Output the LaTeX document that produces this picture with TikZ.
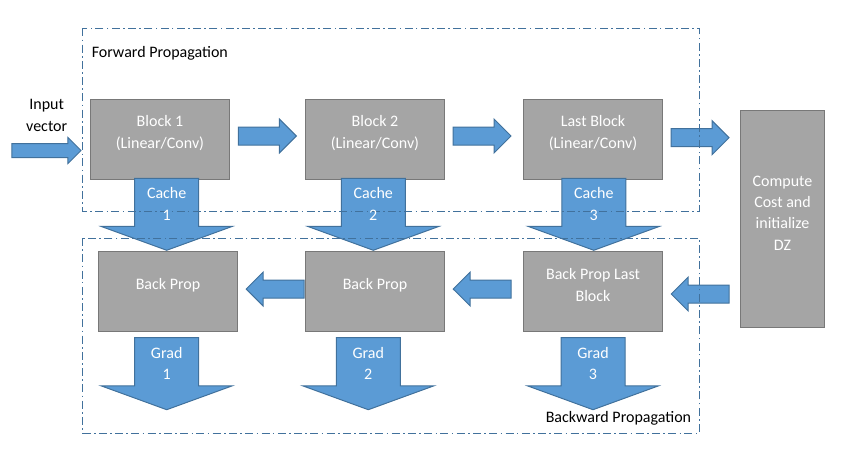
\documentclass[tikz,border=0pt]{standalone}
\usepackage{fontspec}
\setmainfont{Carlito}
\usetikzlibrary{shapes.arrows}
\definecolor{boxgray}{HTML}{A5A5A5}
\definecolor{boxline}{HTML}{787878}
\definecolor{arrowblue}{HTML}{5B9BD5}
\definecolor{arrowline}{HTML}{41719C}
\definecolor{frameblue}{HTML}{41719C}

\begin{document}
\begin{tikzpicture}[x=0.75pt, y=-0.75pt, font=\fontsize{12pt}{16pt}\selectfont]
    % Define styles for blocks, fat arrows and frames
    \tikzstyle{block}=[rectangle, draw=boxline, fill=boxgray, line width=0.75pt, minimum width=104.25pt, minimum height=60pt, inner sep=0pt]
    \tikzstyle{block text}=[text=white, align=center, inner sep=0pt]
    \tikzstyle{plain text}=[text=black, align=center, inner sep=0pt]
    \tikzstyle{fat arrow}=[single arrow, draw=arrowline, fill=arrowblue, line width=0.75pt, inner sep=0pt]
    \tikzstyle{fat right}=[fat arrow, inner ysep=6.375pt, minimum height=43.5pt, single arrow head extend=6pt]
    \tikzstyle{fat left}=[fat right, shape border rotate=180]
    \tikzstyle{fat down}=[fat arrow, shape border rotate=270, inner xsep=23.625pt, minimum height=54pt, single arrow head extend=25.125pt, single arrow tip angle=140]
    \tikzstyle{frame}=[draw=frameblue, line width=0.75pt, dash pattern=on 6pt off 2.5pt on 1.2pt off 2.5pt]

    \useasboundingbox (0,0) rectangle (847,475);

    % Forward blocks
    \node[block] (B-1) at (160,139.3) {};
    \node[block] (B-2) at (375,139.3) {};
    \node[block] (B-L) at (593,139.3) {};

    % Cost block
    \node[block, minimum width=63.3pt, minimum height=162.5pt] (C) at (782.5,219) {};

    % Backward blocks
    \node[block] (P-1) at (168,291.3) {};
    \node[block] (P-2) at (375,291.3) {};
    \node[block] (P-L) at (593,291.3) {};

    % Forward arrows
    \node[fat right, anchor=tip, inner ysep=4.875pt, minimum height=51.75pt, single arrow head extend=4.5pt] (A-in) at ([shift={(-8.3,11.2)}]B-1.west) {};
    \node[fat right, anchor=tail] (A-12) at ([shift={(7.8,-3.3)}]B-1.east) {};
    \node[fat right, anchor=tail] (A-2L) at ([shift={(7.5,-3.3)}]B-2.east) {};
    \node[fat right, anchor=tail] (A-LC) at ([shift={(7.5,-1.6)}]B-L.east) {};

    % Backward arrows
    \node[fat left, anchor=tip] (A-CL) at ([shift={(7.5,2.7)}]P-L.east) {};
    \node[fat left, anchor=tip] (A-L2) at ([shift={(7.5,-2.3)}]P-2.east) {};
    \node[fat left, anchor=tip] (A-21) at ([shift={(7.5,-2.3)}]P-1.east) {};

    % Cache and grad arrows
    \foreach \i/\dx in {1/-1.3, 2/-1.7, L/0.8} {
        \node[fat down, anchor=tip] (K-\i) at ([shift={(\dx,0)}]P-\i.north) {};
    }
    \foreach \i/\dx in {1/-1.3, 2/-6.7, L/0} {
        \node[fat down, anchor=tail] (G-\i) at ([shift={(\dx,5.4)}]P-\i.south) {};
    }

    % Frames
    \draw[frame] (82.7,28.3) rectangle (699.3,211);
    \draw[frame] (82.7,238) rectangle (699.3,433.3);

    % Texts
    \node[block text] (B-1-t) at (160,133) {Block 1\\(Linear/Conv)};
    \node[block text] (B-2-t) at (375,133) {Block 2\\(Linear/Conv)};
    \node[block text] (B-L-t) at (593,133) {Last Block\\(Linear/Conv)};
    \node[block text] (C-t) at (782.5,213) {Compute\\Cost and\\initialize\\DZ};
    \node[block text] (P-1-t) at (168,285) {Back Prop};
    \node[block text] (P-2-t) at (375,285) {Back Prop};
    \node[block text] (P-L-t) at (593,285) {Back Prop Last\\Block};
    \foreach \i/\n in {1/1, 2/2, L/3} {
        \node[block text] (K-\i-t) at ([shift={(0,26.3)}]K-\i.tail) {Cache\\\n};
        \node[block text] (G-\i-t) at ([shift={(0,26.3)}]G-\i.tail) {Grad\\\n};
    }
    \node[plain text] (in-t) at (46.7,115.5) {Input\\vector};
    \node[plain text, anchor=west] (F-t) at (91.5,53) {Forward Propagation};
    \node[plain text, anchor=west] (W-t) at (545.5,418.3) {Backward Propagation};

\end{tikzpicture}
\end{document}
